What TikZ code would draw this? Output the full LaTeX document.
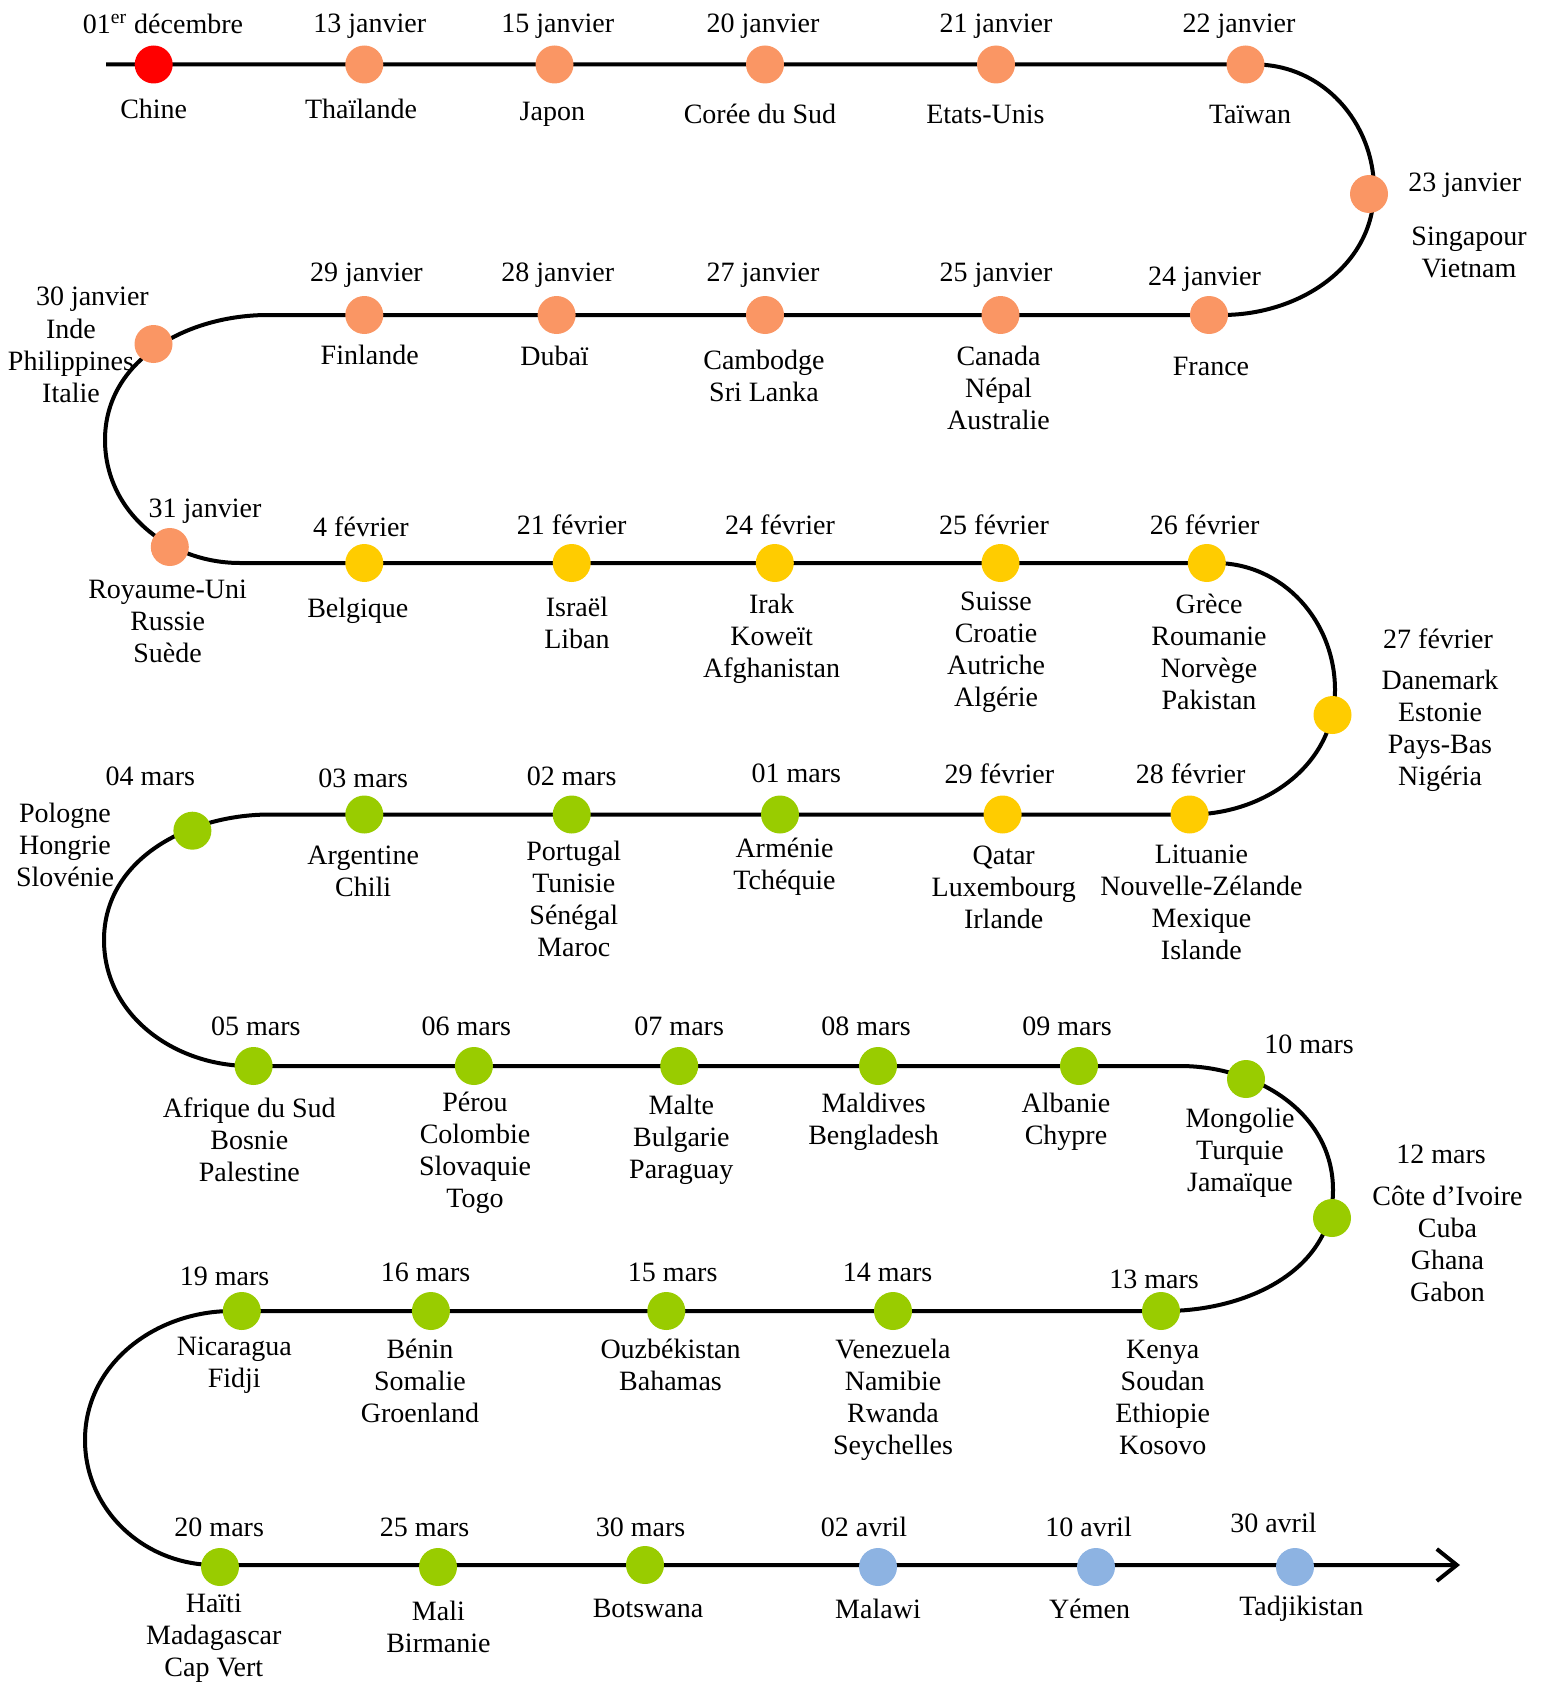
\documentclass[tikz,border=0pt]{standalone}
\usepackage{fontspec}
\setmainfont{Liberation Serif}
\usetikzlibrary{arrows.meta}
\definecolor{cRed}{RGB}{255,0,0}
\definecolor{cOrange}{RGB}{250,150,100}
\definecolor{cYellow}{RGB}{255,204,0}
\definecolor{cGreen}{RGB}{153,204,0}
\definecolor{cBlue}{RGB}{141,179,226}
\tikzset{
  track/.style={line width=2pt, black},
  dot/.style={circle, minimum size=19pt, inner sep=0pt, fill=#1, draw=none},
  lab/.style={font=\fontsize{14}{16}\selectfont, inner sep=0pt, align=center, text=black},
}
\begin{document}
\begin{tikzpicture}[x=0.5pt,y=-0.5pt]
\useasboundingbox (0,0) rectangle (1542,1685);
% path way-points
\coordinate (s) at (106,64.5);
\coordinate (r1e) at (1255,64.5);
\coordinate (c1) at (1374,190);
\coordinate (r2s) at (1222,315);
\coordinate (r2e) at (268,315);
\coordinate (c2) at (105,440);
\coordinate (r3s) at (240,563);
\coordinate (r3e) at (1215,563);
\coordinate (c3) at (1335,690);
\coordinate (r4s) at (1190,814.5);
\coordinate (r4e) at (270,814.5);
\coordinate (c4) at (104,940);
\coordinate (r5s) at (250,1066);
\coordinate (r5e) at (1180,1066);
\coordinate (c5) at (1333,1190);
\coordinate (r6s) at (1165,1311);
\coordinate (r6e) at (232,1311);
\coordinate (c6) at (85,1440);
\coordinate (r7s) at (215,1565);
\coordinate (e) at (1460,1565);
\draw[track,-{Straight Barb[length=10pt,width=16pt,line width=2pt]}]
  (s) -- (r1e) to[out=0,in=90] (c1) to[out=-90,in=0] (r2s) -- (r2e)
  to[out=180,in=90] (c2) to[out=-90,in=180] (r3s) -- (r3e)
  to[out=0,in=90] (c3) to[out=-90,in=0] (r4s) -- (r4e)
  to[out=180,in=90] (c4) to[out=-90,in=180] (r5s) -- (r5e)
  to[out=0,in=90] (c5) to[out=-90,in=0] (r6s) -- (r6e)
  to[out=180,in=90] (c6) to[out=-90,in=180] (r7s) -- (e);

% ---------- Row 1 ----------
\node[dot=cRed] (d01) at (153.7,64.5) {};
\node[lab] (t01) at (163,24) {01\textsuperscript{er} décembre};
\node[lab] (n01) at (153.7,109) {Chine};
\node[dot=cOrange] (d02) at (364.3,64.5) {};
\node[lab] (t02) at (369.7,26) {13 janvier};
\node[lab] (n02) at (361,109) {Thaïlande};
\node[dot=cOrange] (d03) at (554.5,64.5) {};
\node[lab] (t03) at (557.7,26) {15 janvier};
\node[lab] (n03) at (552.4,114) {Japon};
\node[dot=cOrange] (d04) at (765,64.5) {};
\node[lab] (t04) at (763,26) {20 janvier};
\node[lab] (n04) at (760,114) {Corée du Sud};
\node[dot=cOrange] (d05) at (996,64.5) {};
\node[lab] (t05) at (996,26) {21 janvier};
\node[lab] (n05) at (985.4,114) {Etats-Unis};
\node[dot=cOrange] (d06) at (1245.5,64.5) {};
\node[lab] (t06) at (1239,26) {22 janvier};
\node[lab] (n06) at (1250,114) {Taïwan};
\node[dot=cOrange] (d07) at (1369,194) {};
\node[lab] (t07) at (1464.7,185) {23 janvier};
\node[lab] (n07) at (1469,252) {Singapour\\Vietnam};

% ---------- Row 2 ----------
\node[dot=cOrange] (d08) at (1209,315) {};
\node[lab] (t08) at (1204.6,279.4) {24 janvier};
\node[lab] (n08) at (1211,366.4) {France};
\node[dot=cOrange] (d09) at (1000.5,315) {};
\node[lab] (t09) at (996,275) {25 janvier};
\node[lab] (n09) at (998.5,388) {Canada\\Népal\\Australie};
\node[dot=cOrange] (d10) at (765,315) {};
\node[lab] (t10) at (763,275) {27 janvier};
\node[lab] (n10) at (764,376) {Cambodge\\Sri Lanka};
\node[dot=cOrange] (d11) at (556.6,315) {};
\node[lab] (t11) at (557.7,275) {28 janvier};
\node[lab] (n11) at (554.5,355.7) {Dubaï};
\node[dot=cOrange] (d12) at (364.3,315) {};
\node[lab] (t12) at (366.4,275) {29 janvier};
\node[lab] (n12) at (369.7,354.6) {Finlande};
\node[dot=cOrange] (d13) at (153.5,344) {};
\node[lab] (t13) at (92.4,298.7) {30 janvier};
\node[lab] (n13) at (71,361) {Inde\\Philippines\\Italie};

% ---------- Row 3 ----------
\node[dot=cOrange] (d14) at (169.8,547) {};
\node[lab] (t14) at (205,511.5) {31 janvier};
\node[lab] (n14) at (167.6,621) {Royaume-Uni\\Russie\\Suède};
\node[dot=cYellow] (d15) at (364.3,563) {};
\node[lab] (t15) at (361,526.5) {4 février};
\node[lab] (n15) at (357.8,610.4) {Belgique};
\node[dot=cYellow] (d16) at (571.7,563) {};
\node[lab] (t16) at (571.7,524.4) {21 février};
\node[lab] (n16) at (577,622.7) {Israël\\Liban};
\node[dot=cYellow] (d17) at (774.8,563) {};
\node[lab] (t17) at (780,524.4) {24 février};
\node[lab] (n17) at (771.6,639) {Irak\\Koweït\\Afghanistan};
\node[dot=cYellow] (d18) at (1000.5,563) {};
\node[lab] (t18) at (994,524.4) {25 février};
\node[lab] (n18) at (996,652) {Suisse\\Croatie\\Autriche\\Algérie};
\node[dot=cYellow] (d19) at (1206.8,563) {};
\node[lab] (t19) at (1204.6,524.4) {26 février};
\node[lab] (n19) at (1209,652) {Grèce\\Roumanie\\Norvège\\Pakistan};
\node[dot=cYellow] (d20) at (1332.5,715) {};
\node[lab] (t20) at (1438,638.3) {27 février};
\node[lab] (n20) at (1440,731) {Danemark\\Estonie\\Pays-Bas\\Nigéria};

% ---------- Row 4 ----------
\node[dot=cYellow] (d21) at (1189.6,814.5) {};
\node[lab] (t21) at (1190.6,773.7) {28 février};
\node[lab] (n21) at (1201.4,902) {Lituanie\\Nouvelle-Zélande\\Mexique\\Islande};
\node[dot=cYellow] (d22) at (1002.6,814.5) {};
\node[lab] (t22) at (999.4,773.7) {29 février};
\node[lab] (n22) at (1003.7,887) {Qatar\\Luxembourg\\Irlande};
\node[dot=cGreen] (d23) at (780,814.5) {};
\node[lab] (t23) at (796.3,773.7) {01 mars};
\node[lab] (n23) at (784.5,866.7) {Arménie\\Tchéquie};
\node[dot=cGreen] (d24) at (571.7,814.5) {};
\node[lab] (t24) at (571.7,775.9) {02 mars};
\node[lab] (n24) at (573.8,899) {Portugal\\Tunisie\\Sénégal\\Maroc};
\node[dot=cGreen] (d25) at (364.3,814.5) {};
\node[lab] (t25) at (363.2,778) {03 mars};
\node[lab] (n25) at (363.2,871) {Argentine\\Chili};
\node[dot=cGreen] (d26) at (192.4,830.7) {};
\node[lab] (t26) at (150.4,775.9) {04 mars};
\node[lab] (n26) at (65,844.7) {Pologne\\Hongrie\\Slovénie};

% ---------- Row 5 ----------
\node[dot=cGreen] (d27) at (253.6,1066) {};
\node[lab] (t27) at (255.8,1026) {05 mars};
\node[lab] (n27) at (249.3,1140.2) {Afrique du Sud\\Bosnie\\Palestine};
\node[dot=cGreen] (d28) at (473.9,1066) {};
\node[lab] (t28) at (466.4,1026) {06 mars};
\node[lab] (n28) at (475,1152.5) {Pérou\\Colombie\\Slovaquie\\Togo};
\node[dot=cGreen] (d29) at (679.2,1066) {};
\node[lab] (t29) at (679.2,1026) {07 mars};
\node[lab] (n29) at (681.3,1139.7) {Malte\\Bulgarie\\Paraguay};
\node[dot=cGreen] (d30) at (878,1066) {};
\node[lab] (t30) at (866,1026) {08 mars};
\node[lab] (n30) at (873.6,1121.3) {Maldives\\Bengladesh};
\node[dot=cGreen] (d31) at (1079,1066) {};
\node[lab] (t31) at (1067,1026) {09 mars};
\node[lab] (n31) at (1066,1121.3) {Albanie\\Chypre};
\node[dot=cGreen] (d32) at (1246,1079) {};
\node[lab] (t32) at (1309,1044.5) {10 mars};
\node[lab] (n32) at (1240,1153) {Mongolie\\Turquie\\Jamaïque};
\node[dot=cGreen] (d33) at (1332,1218) {};
\node[lab] (t33) at (1441,1154) {12 mars};
\node[lab] (n33) at (1447.5,1244) {Côte d’Ivoire\\Cuba\\Ghana\\Gabon};

% ---------- Row 6 ----------
\node[dot=cGreen] (d34) at (1161,1311) {};
\node[lab] (t34) at (1154,1279) {13 mars};
\node[lab] (n34) at (1162.7,1397) {Kenya\\Soudan\\Ethiopie\\Kosovo};
\node[dot=cGreen] (d35) at (893,1311) {};
\node[lab] (t35) at (887.6,1272.3) {14 mars};
\node[lab] (n35) at (893,1399.5) {Venezuela\\Namibie\\Rwanda\\Seychelles};
\node[dot=cGreen] (d36) at (666.3,1311) {};
\node[lab] (t36) at (672.7,1272.3) {15 mars};
\node[lab] (n36) at (670.5,1365.3) {Ouzbékistan\\Bahamas};
\node[dot=cGreen] (d37) at (430.9,1311) {};
\node[lab] (t37) at (425.5,1272.3) {16 mars};
\node[lab] (n37) at (420,1380.8) {Bénin\\Somalie\\Groenland};
\node[dot=cGreen] (d38) at (241.8,1311) {};
\node[lab] (t38) at (224.6,1276.6) {19 mars};
\node[lab] (n38) at (234.3,1365.3) {Nicaragua\\Fidji};

% ---------- Row 7 ----------
\node[dot=cGreen] (d39) at (220,1567) {};
\node[lab] (t39) at (219.2,1527) {20 mars};
\node[lab] (n39) at (213.8,1637.7) {Haïti\\Madagascar\\Cap Vert};
\node[dot=cGreen] (d40) at (438,1567) {};
\node[lab] (t40) at (424.5,1527) {25 mars};
\node[lab] (n40) at (438.4,1627) {Mali\\Birmanie};
\node[dot=cGreen] (d41) at (645,1565) {};
\node[lab] (t41) at (640.5,1527) {30 mars};
\node[lab] (n41) at (648,1608.7) {Botswana};
\node[dot=cBlue] (d42) at (878,1567) {};
\node[lab] (t42) at (864,1527) {02 avril};
\node[lab] (n42) at (878,1608.7) {Malawi};
\node[dot=cBlue] (d43) at (1096,1567) {};
\node[lab] (t43) at (1088.6,1527) {10 avril};
\node[lab] (n43) at (1089.6,1608.7) {Yémen};
\node[dot=cBlue] (d44) at (1295,1567) {};
\node[lab] (t44) at (1273.4,1522.7) {30 avril};
\node[lab] (n44) at (1301.3,1608.7) {Tadjikistan};
\end{tikzpicture}
\end{document}
